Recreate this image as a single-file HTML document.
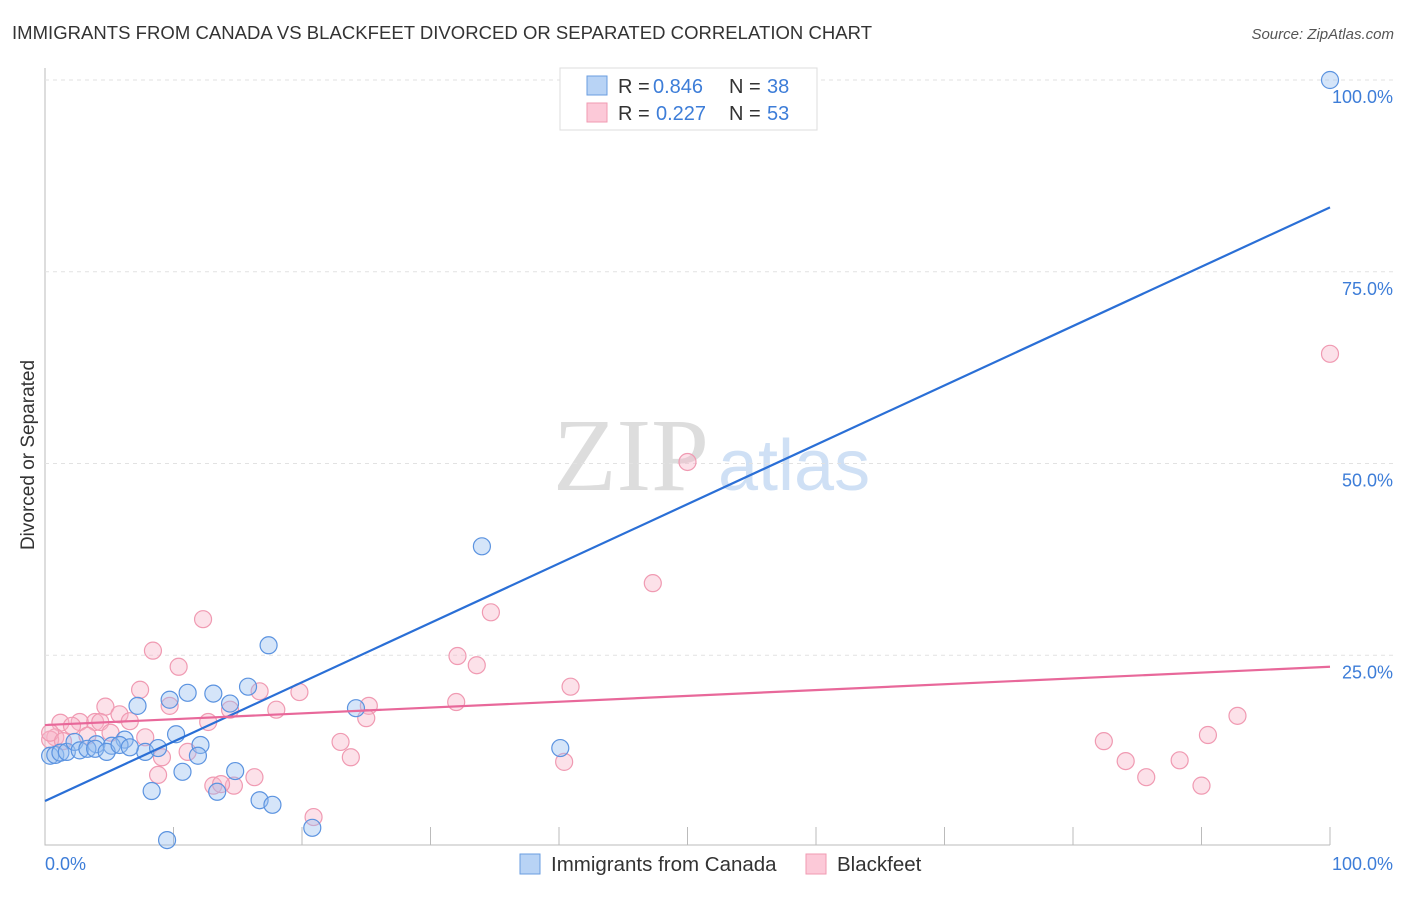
<!DOCTYPE html>
<html><head><meta charset="utf-8"><style>
body{margin:0;background:#fff;font-family:"Liberation Sans",sans-serif}
</style></head><body>
<svg width="1406" height="892" xmlns="http://www.w3.org/2000/svg" font-family="Liberation Sans, sans-serif">
<text x="12" y="39" font-size="18.5" fill="#333" textLength="860">IMMIGRANTS FROM CANADA VS BLACKFEET DIVORCED OR SEPARATED CORRELATION CHART</text>
<text x="1394" y="39" font-size="15" fill="#555" font-style="italic" text-anchor="end">Source: ZipAtlas.com</text>
<text x="34" y="455" font-size="19" fill="#333" text-anchor="middle" transform="rotate(-90 34 455)">Divorced or Separated</text>
<text x="553" y="490" font-size="104" fill="#ddd" font-family="Liberation Serif, serif">ZIP</text>
<text x="718" y="490" font-size="72" fill="#cfe0f5">atlas</text>
<g id="grid"></g><g id="marks"></g>
<g>
<rect x="560" y="68" width="257" height="62" fill="#fff" stroke="#ddd"/>
<rect x="587" y="76" width="20" height="19" fill="#b8d3f5" stroke="#6a9ee0"/>
<rect x="587" y="103" width="20" height="19" fill="#fcc9d8" stroke="#f09ab2"/>
<text x="618" y="93" font-size="20" fill="#333">R =</text>
<text x="653" y="93" font-size="20" fill="#3d7dd8">0.846</text>
<text x="729" y="93" font-size="20" fill="#333">N =</text>
<text x="767" y="93" font-size="20" fill="#3d7dd8">38</text>
<text x="618" y="120" font-size="20" fill="#333">R =</text>
<text x="656" y="120" font-size="20" fill="#3d7dd8">0.227</text>
<text x="729" y="120" font-size="20" fill="#333">N =</text>
<text x="767" y="120" font-size="20" fill="#3d7dd8">53</text>
</g>
<g>
<rect x="520" y="854" width="20" height="20" fill="#b8d3f5" stroke="#6a9ee0"/>
<text x="551" y="871" font-size="20.5" fill="#333">Immigrants from Canada</text>
<rect x="806" y="854" width="20" height="20" fill="#fcc9d8" stroke="#f09ab2"/>
<text x="837" y="871" font-size="20.5" fill="#333">Blackfeet</text>
</g>
</svg>
<script>
const yTicks=[25,50,75,100];
const yTickLabels=["25.0%","50.0%","75.0%","100.0%"];
const xTicks=[0,10,20,30,40,50,60,70,80,90,100];
const blueX=[100,34.0,17.4,15.8,13.1,11.1,9.7,7.2,14.4,24.2,10.2,6.2,4.0,5.2,7.8,8.8,12.1,11.9,10.7,14.8,8.3,13.4,16.7,17.7,20.8,9.5,40.1,0.4,0.8,1.2,1.7,2.3,2.7,3.3,3.9,4.8,5.8,6.6];
const blueY=[100,39.2,26.3,20.9,20.0,20.1,19.2,18.4,18.7,18.1,14.7,14.0,13.4,13.2,12.4,12.9,13.3,11.9,9.8,9.9,7.3,7.2,6.1,5.5,2.5,0.9,12.9,11.9,12.0,12.3,12.4,13.7,12.6,12.8,12.8,12.4,13.3,13.0];
const pinkX=[100,50.0,47.3,34.7,12.3,8.4,10.4,32.1,33.6,40.9,7.4,16.7,19.8,32.0,25.2,9.7,25.0,18.0,4.7,5.8,6.6,3.9,4.3,2.7,1.2,2.1,12.7,14.4,5.1,7.8,3.3,0.8,0.4,23.0,82.4,90.5,92.8,11.1,9.1,23.8,40.4,84.1,88.3,8.8,16.3,85.7,13.1,14.7,13.7,90.0,20.9,0.4,1.4];
const pinkY=[64.3,50.2,34.4,30.6,29.7,25.6,23.5,24.9,23.7,20.9,20.5,20.3,20.2,18.9,18.4,18.4,16.8,17.9,18.3,17.3,16.4,16.3,16.3,16.3,16.2,15.8,16.3,17.9,14.9,14.3,14.5,14.3,14.0,13.7,13.8,14.6,17.1,12.4,11.7,11.7,11.1,11.2,11.3,9.4,9.1,9.1,8.0,8.0,8.2,8.0,3.9,14.9,13.8];
const blueLine=[6.0,83.4];
const pinkLine=[15.9,23.5];
const NS="http://www.w3.org/2000/svg";
const X=v=>45+v*12.85, Y=v=>847-v*7.67;
function mk(t,a,p){const e=document.createElementNS(NS,t);for(const k in a)e.setAttribute(k,a[k]);p.appendChild(e);return e;}
const g=document.getElementById('grid'), m=document.getElementById('marks');
const ax=mk('path',{d:'M45 68V845H1330',stroke:'#bbb',fill:'none'},g);


yTicks.forEach((t,i)=>{
 const l=mk('line',{x1:45,x2:1395,y1:Y(t),y2:Y(t),stroke:'#e2e2e2','stroke-dasharray':'4 4'},g);
 
 
 const tx=mk('text',{x:1393,y:Y(t)+23,'font-size':18,fill:'#3d7dd8','text-anchor':'end'},g);
 tx.textContent=yTickLabels[i];
 
 
});
xTicks.forEach(t=>{
 const l=mk('line',{x1:X(t),x2:X(t),y1:827,y2:845,stroke:'#bbb'},g);
 
 
});
const x0=mk('text',{x:45,y:870,'font-size':18,fill:'#3d7dd8'},g);x0.textContent='0.0%';


const x1=mk('text',{x:1393,y:870,'font-size':18,fill:'#3d7dd8','text-anchor':'end'},g);x1.textContent='100.0%';


function pts(xs,ys,f,s,name){xs.forEach((x,i)=>{const c=mk('circle',{cx:X(x),cy:Y(ys[i]),r:8.5,fill:f,stroke:s,'stroke-width':1.2},m);
 
 });}
pts(pinkX,pinkY,'rgba(248,180,200,0.4)','#f09ab2','blackfeet-point');
pts(blueX,blueY,'rgba(150,190,240,0.4)','#5b93e0','canada-point');
const bl=mk('line',{x1:X(0),y1:Y(blueLine[0]),x2:X(100),y2:Y(blueLine[1]),stroke:'#2a6fd6','stroke-width':2.2},m);


const pl=mk('line',{x1:X(0),y1:Y(pinkLine[0]),x2:X(100),y2:Y(pinkLine[1]),stroke:'#e8689a','stroke-width':2.2},m);


</script>
</body></html>
